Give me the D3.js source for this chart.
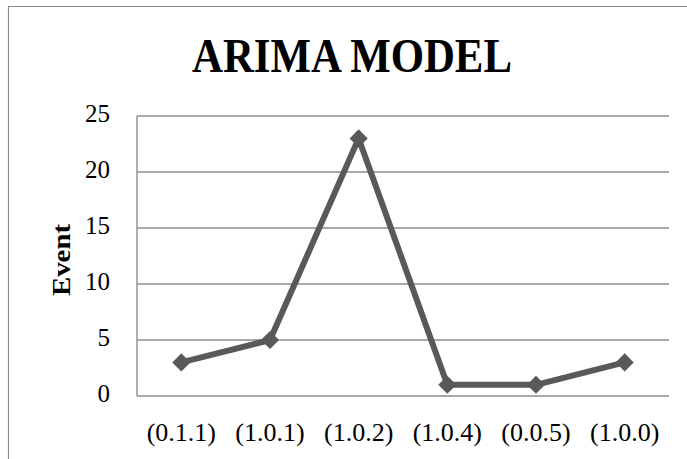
<!DOCTYPE html>
<html>
<head>
<meta charset="utf-8">
<script src="https://cdn.jsdelivr.net/npm/d3@7/dist/d3.min.js"></script>
<style>
  html, body { margin: 0; padding: 0; background: #fff; }
  svg { display: block; }
</style>
</head>
<body>
<div id="chart"></div>
<script>
// ARIMA model orders and the event counts for each
const categories = ["(0.1.1)", "(1.0.1)", "(1.0.2)", "(1.0.4)", "(0.0.5)", "(1.0.0)"];
const events = [3, 5, 23, 1, 1, 3];
const yTicks = [0, 5, 10, 15, 20, 25];
const title = "ARIMA MODEL";
const yTitle = "Event";

const W = 687, H = 459;
const plot = { left: 137, right: 669, top: 116, bottom: 396 };
const serif = "'Liberation Serif', 'DejaVu Serif', serif";

const svg = d3.select("#chart").append("svg")
  .attr("width", W).attr("height", H);

// chart frame (clipped on the right and bottom edges)
svg.append("path")
  .attr("d", `M8.5,${H + 2} L8.5,6.5 L${W + 2},6.5`)
  .attr("fill", "none").attr("stroke", "#8a8a8a").attr("stroke-width", 1.2);

const x = d3.scaleBand().domain(categories).range([plot.left, plot.right]);
const y = d3.scaleLinear().domain([0, 25]).range([plot.bottom, plot.top]);

// horizontal gridlines
svg.append("g").selectAll("line").data(yTicks).join("line")
  .attr("x1", plot.left).attr("x2", plot.right)
  .attr("y1", d => y(d)).attr("y2", d => y(d))
  .attr("stroke", "#8c8c8c").attr("stroke-width", 1.4);

// vertical axis line
svg.append("line")
  .attr("x1", plot.left).attr("x2", plot.left)
  .attr("y1", plot.top).attr("y2", plot.bottom)
  .attr("stroke", "#8c8c8c").attr("stroke-width", 1.4);

// y tick labels
const yAxis = d3.axisLeft(y).tickValues(yTicks).tickSize(0).tickPadding(27);
const gy = svg.append("g").attr("transform", `translate(${plot.left},0)`).call(yAxis);
gy.attr("font-family", serif).attr("font-size", 25);
gy.select(".domain").remove();
gy.selectAll("text").attr("fill", "#000").attr("dy", 5);

// x tick labels
const xAxis = d3.axisBottom(x).tickSize(0).tickPadding(45);
const gx = svg.append("g").attr("transform", `translate(0,${plot.bottom})`).call(xAxis);
gx.attr("font-family", serif).attr("font-size", 26);
gx.select(".domain").remove();
gx.selectAll("text").attr("fill", "#000").attr("dy", 0);

// title
svg.append("text")
  .attr("x", 352).attr("y", 72)
  .attr("text-anchor", "middle")
  .attr("font-family", serif).attr("font-weight", "bold")
  .attr("font-size", 48)
  .attr("textLength", 320).attr("lengthAdjust", "spacingAndGlyphs")
  .text(title);

// y axis title
svg.append("text")
  .attr("transform", "translate(70,260) rotate(-90)")
  .attr("text-anchor", "middle")
  .attr("font-family", serif).attr("font-weight", "bold")
  .attr("font-size", 25)
  .attr("textLength", 72).attr("lengthAdjust", "spacingAndGlyphs")
  .text(yTitle);

// series line
const cx = d => x(d) + x.bandwidth() / 2;
const line = d3.line().x((d, i) => cx(categories[i])).y(d => y(d));
svg.append("path")
  .datum(events)
  .attr("d", line)
  .attr("fill", "none")
  .attr("stroke", "#595959").attr("stroke-width", 6)
  .attr("stroke-linejoin", "round");

// diamond markers
const diamond = d3.symbol().type(d3.symbolDiamond2).size(210);
svg.append("g").selectAll("path").data(events).join("path")
  .attr("d", diamond)
  .attr("transform", (d, i) => `translate(${cx(categories[i])},${y(d)})`)
  .attr("fill", "#595959");
</script>
</body>
</html>
